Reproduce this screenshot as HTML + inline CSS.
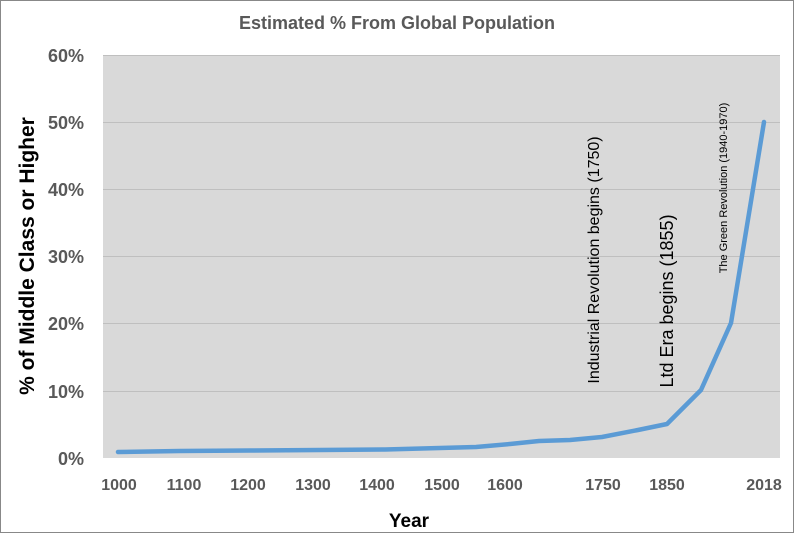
<!DOCTYPE html>
<html><head><meta charset="utf-8"><style>
html,body{margin:0;padding:0;background:#fff;}
svg{display:block;}
</style></head><body>
<svg width="794" height="533" xmlns="http://www.w3.org/2000/svg" font-family="Liberation Sans, sans-serif">
<rect x="0.5" y="0.5" width="793" height="532" fill="#fff" stroke="#888" stroke-width="1"/>
<text x="397" y="29" text-anchor="middle" font-size="18" font-weight="bold" fill="#595959">Estimated % From Global Population</text>
<rect x="103" y="55" width="677" height="403" fill="#d9d9d9"/>
<g stroke="#bfbfbf" stroke-width="1">
<line x1="103" x2="780" y1="55.5" y2="55.5"/>
<line x1="103" x2="780" y1="122.5" y2="122.5"/>
<line x1="103" x2="780" y1="189.5" y2="189.5"/>
<line x1="103" x2="780" y1="256.5" y2="256.5"/>
<line x1="103" x2="780" y1="323.5" y2="323.5"/>
<line x1="103" x2="780" y1="391.5" y2="391.5"/>
</g>
<g font-size="18" font-weight="bold" fill="#595959" text-anchor="end">
<text x="84" y="62">60%</text>
<text x="84" y="129">50%</text>
<text x="84" y="196">40%</text>
<text x="84" y="263">30%</text>
<text x="84" y="330">20%</text>
<text x="84" y="398">10%</text>
<text x="84" y="465">0%</text>
</g>
<text transform="translate(34,256) rotate(-90)" text-anchor="middle" font-size="21" font-weight="bold" fill="#000">% of Middle Class or Higher</text>
<g font-size="16" font-weight="bold" fill="#595959" text-anchor="middle">
<text x="119" y="490">1000</text>
<text x="184" y="490">1100</text>
<text x="248" y="490">1200</text>
<text x="313" y="490">1300</text>
<text x="377" y="490">1400</text>
<text x="442" y="490">1500</text>
<text x="505" y="490">1600</text>
<text x="603" y="490">1750</text>
<text x="667" y="490">1850</text>
<text x="764" y="490">2018</text>
</g>
<text x="409" y="527" text-anchor="middle" font-size="19" font-weight="bold" fill="#000">Year</text>
<polyline fill="none" stroke="#5b9bd5" stroke-width="4.5" stroke-linejoin="round" stroke-linecap="round"
points="118,452 180,451 250,450.5 320,450 385,449.5 440,448 476,447 510,444 539,441 570,440 602,437 638,430 667,424 701,390 731,323 764,122"/>
<text transform="translate(599,260) rotate(-90)" text-anchor="middle" font-size="16" fill="#000">Industrial Revolution begins (1750)</text>
<text transform="translate(673,301) rotate(-90)" text-anchor="middle" font-size="18" fill="#000">Ltd Era begins (1855)</text>
<text transform="translate(727,188) rotate(-90)" text-anchor="middle" font-size="11" fill="#000">The Green Revolution (1940-1970)</text>
</svg>
</body></html>
